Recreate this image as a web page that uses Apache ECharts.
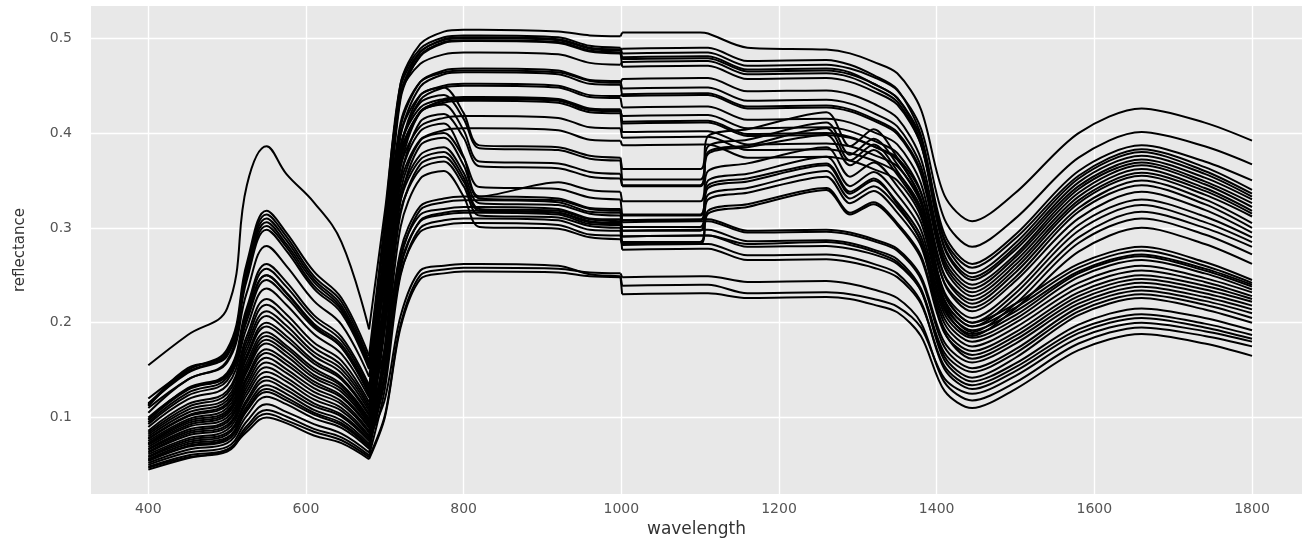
<!DOCTYPE html>
<html>
<head>
<meta charset="utf-8">
<title>reflectance spectra</title>
<script src="https://cdn.jsdelivr.net/npm/echarts@6/dist/echarts.min.js"></script>
<style>
  html, body { margin: 0; padding: 0; background: #fff; }
  #chart { width: 1302px; height: 543px; }
</style>
</head>
<body>
<div id="chart"></div>
<script>
// sample wavelengths (nm); 999 / 1001 sit on both sides of the detector jump
const wavelengths = [400, 450, 500, 525, 550, 575, 610, 645, 680, 700, 720, 745, 775, 800, 820, 920, 960, 999,
  1001, 1100, 1110, 1160, 1260, 1290, 1320, 1350, 1380, 1410, 1445, 1500, 1580, 1660, 1740, 1800]

const xTicks = [400, 600, 800, 1000, 1200, 1400, 1600, 1800]
const yTicks = [0.1, 0.2, 0.3, 0.4, 0.5]

// curves with a smooth NIR plateau, high reflectance
const highCurves = [
  [0.095,0.126,0.142,0.207,0.250,0.232,0.199,0.177,0.128, 0.288,0.452,0.494,0.507, 0.509,0.509,0.507,0.503,0.502, 0.506,0.506,0.505,0.490,0.488, 0.484,0.475,0.463,0.425,0.334,0.307, 0.337,0.400,0.426,0.411,0.392],
  [0.120,0.150,0.172,0.263,0.318,0.295,0.254,0.226,0.165, 0.307,0.452,0.489,0.501, 0.503,0.503,0.501,0.492,0.490, 0.484,0.485,0.485,0.471,0.472, 0.468,0.459,0.445,0.405,0.309,0.280, 0.310,0.374,0.401,0.386,0.367],
  [0.078,0.102,0.115,0.166,0.200,0.186,0.160,0.142,0.104, 0.271,0.441,0.485,0.499, 0.501,0.501,0.499,0.490,0.488, 0.478,0.479,0.479,0.465,0.466, 0.462,0.452,0.437,0.395,0.293,0.262, 0.293,0.360,0.387,0.370,0.350],
  [0.110,0.140,0.160,0.245,0.298,0.276,0.236,0.210,0.151, 0.298,0.448,0.486,0.498, 0.500,0.500,0.498,0.489,0.487, 0.489,0.490,0.490,0.476,0.477, 0.472,0.461,0.446,0.398,0.286,0.252, 0.284,0.352,0.380,0.360,0.336],
  [0.066,0.085,0.095,0.136,0.163,0.151,0.131,0.117,0.086, 0.259,0.436,0.482,0.496, 0.498,0.498,0.496,0.487,0.485, 0.470,0.471,0.471,0.457,0.458, 0.454,0.444,0.430,0.388,0.288,0.258, 0.289,0.355,0.383,0.364,0.340],
  [0.080,0.105,0.118,0.171,0.207,0.192,0.165,0.147,0.107, 0.271,0.439,0.481,0.495, 0.497,0.497,0.495,0.486,0.484, 0.480,0.481,0.481,0.467,0.468, 0.464,0.452,0.437,0.390,0.278,0.245, 0.277,0.344,0.372,0.353,0.330],
  [0.155,0.187,0.215,0.345,0.386,0.357,0.327,0.285,0.193, 0.317,0.442,0.473,0.483, 0.485,0.485,0.483,0.474,0.472, 0.475,0.476,0.476,0.462,0.463, 0.459,0.448,0.433,0.388,0.280,0.248, 0.280,0.348,0.376,0.357,0.333],
  [0.090,0.119,0.134,0.195,0.236,0.219,0.188,0.167,0.121, 0.253,0.406,0.454,0.466, 0.468,0.468,0.466,0.456,0.455, 0.447,0.448,0.448,0.434,0.435, 0.431,0.421,0.407,0.365,0.266,0.236, 0.269,0.337,0.366,0.346,0.322],
  [0.115,0.148,0.168,0.258,0.314,0.291,0.249,0.222,0.160, 0.276,0.411,0.454,0.464, 0.466,0.466,0.464,0.455,0.453, 0.457,0.458,0.458,0.444,0.445, 0.441,0.431,0.416,0.373,0.271,0.240, 0.272,0.341,0.369,0.349,0.326],
  [0.071,0.092,0.103,0.148,0.178,0.165,0.142,0.127,0.093, 0.234,0.397,0.449,0.462, 0.464,0.464,0.462,0.452,0.451, 0.439,0.440,0.440,0.426,0.427, 0.423,0.413,0.399,0.357,0.258,0.228, 0.261,0.329,0.358,0.339,0.315],
  [0.114,0.147,0.167,0.255,0.310,0.287,0.246,0.218,0.157, 0.269,0.399,0.440,0.450, 0.452,0.452,0.450,0.440,0.439, 0.441,0.442,0.442,0.428,0.429, 0.425,0.415,0.401,0.360,0.262,0.232, 0.265,0.333,0.362,0.342,0.318],
  [0.059,0.076,0.084,0.119,0.143,0.133,0.115,0.103,0.077, 0.219,0.383,0.435,0.448, 0.450,0.450,0.448,0.438,0.437, 0.427,0.428,0.428,0.414,0.415, 0.411,0.401,0.388,0.347,0.249,0.220, 0.253,0.321,0.350,0.330,0.305],
  [0.113,0.152,0.165,0.252,0.306,0.283,0.243,0.215,0.155, 0.263,0.387,0.427,0.436, 0.438,0.438,0.436,0.426,0.425, 0.410,0.411,0.411,0.397,0.398, 0.395,0.386,0.374,0.337,0.250,0.224, 0.257,0.326,0.355,0.335,0.312],
  [0.075,0.098,0.110,0.158,0.190,0.176,0.152,0.135,0.099, 0.227,0.375,0.423,0.434, 0.436,0.436,0.434,0.424,0.423, 0.418,0.419,0.419,0.405,0.406, 0.402,0.392,0.379,0.338,0.241,0.212, 0.244,0.310,0.338,0.319,0.295],
  [0.097,0.129,0.145,0.212,0.257,0.238,0.204,0.181,0.131, 0.246,0.379,0.422,0.432, 0.434,0.434,0.432,0.422,0.421, 0.401,0.402,0.402,0.388,0.389, 0.386,0.377,0.365,0.328,0.242,0.216, 0.248,0.317,0.345,0.325,0.300],
  [0.055,0.070,0.078,0.109,0.130,0.121,0.105,0.094,0.070, 0.209,0.371,0.422,0.435, 0.437,0.437,0.435,0.425,0.424, 0.412,0.413,0.413,0.399,0.400, 0.396,0.386,0.372,0.330,0.230,0.200, 0.231,0.297,0.324,0.306,0.285],
  [0.112,0.150,0.169,0.249,0.302,0.280,0.239,0.213,0.153, 0.240,0.365,0.407,0.416, 0.418,0.418,0.416,0.406,0.405, 0.395,0.396,0.396,0.382,0.383, 0.379,0.371,0.358,0.321,0.232,0.205, 0.236,0.303,0.330,0.312,0.290],
  [0.086,0.114,0.128,0.186,0.225,0.209,0.179,0.160,0.116, 0.211,0.347,0.393,0.403, 0.405,0.405,0.403,0.393,0.392, 0.387,0.388,0.388,0.374,0.375, 0.371,0.362,0.350,0.312,0.223,0.196, 0.226,0.290,0.317,0.300,0.280]
]

// curves with the hump near 770 nm and the step up at 1100 nm
const bumpCurves = [
  [0.067,0.087,0.097,0.140,0.168,0.156,0.135,0.121,0.089, 0.225,0.383,0.440,0.448, 0.421,0.387,0.385,0.376,0.374, 0.362,0.362,0.397,0.404,0.422, 0.386,0.404,0.374,0.330,0.222,0.190, 0.220,0.284,0.310,0.293,0.272],
  [0.105,0.140,0.158,0.232,0.281,0.260,0.223,0.198,0.143, 0.256,0.387,0.432,0.440, 0.415,0.384,0.382,0.373,0.371, 0.351,0.351,0.386,0.393,0.411, 0.377,0.394,0.367,0.326,0.229,0.200, 0.220,0.262,0.280,0.264,0.245],
  [0.077,0.101,0.113,0.163,0.196,0.182,0.157,0.140,0.102, 0.210,0.364,0.422,0.430, 0.403,0.370,0.368,0.359,0.357, 0.345,0.345,0.380,0.387,0.405, 0.371,0.388,0.360,0.317,0.216,0.186, 0.215,0.275,0.300,0.283,0.262],
  [0.063,0.081,0.090,0.128,0.153,0.142,0.123,0.110,0.081, 0.193,0.352,0.412,0.420, 0.395,0.365,0.363,0.354,0.352, 0.344,0.344,0.378,0.385,0.398, 0.366,0.382,0.356,0.316,0.224,0.196, 0.216,0.258,0.276,0.260,0.242],
  [0.098,0.131,0.147,0.216,0.262,0.243,0.208,0.185,0.134, 0.225,0.355,0.402,0.410, 0.375,0.333,0.348,0.340,0.338, 0.328,0.328,0.360,0.368,0.385, 0.354,0.369,0.344,0.306,0.218,0.192, 0.212,0.254,0.272,0.257,0.240],
  [0.073,0.096,0.107,0.154,0.186,0.173,0.149,0.133,0.097, 0.197,0.339,0.392,0.400, 0.374,0.343,0.341,0.332,0.330, 0.314,0.314,0.350,0.357,0.375, 0.344,0.359,0.335,0.298,0.213,0.188, 0.208,0.252,0.270,0.255,0.238],
  [0.052,0.066,0.073,0.102,0.122,0.114,0.099,0.089,0.067, 0.175,0.329,0.387,0.395, 0.366,0.331,0.329,0.320,0.318, 0.308,0.308,0.342,0.349,0.366, 0.336,0.350,0.327,0.291,0.209,0.184, 0.204,0.248,0.266,0.252,0.235],
  [0.100,0.130,0.145,0.208,0.250,0.231,0.197,0.174,0.124, 0.210,0.333,0.377,0.385, 0.358,0.326,0.324,0.315,0.313, 0.301,0.301,0.335,0.342,0.360, 0.331,0.344,0.322,0.286,0.204,0.180, 0.200,0.242,0.260,0.247,0.232],
  [0.058,0.074,0.082,0.116,0.139,0.129,0.112,0.101,0.075, 0.174,0.315,0.367,0.375, 0.349,0.318,0.316,0.307,0.305, 0.297,0.297,0.330,0.337,0.354, 0.326,0.339,0.316,0.281,0.199,0.175, 0.195,0.237,0.255,0.243,0.228],
  [0.082,0.108,0.121,0.176,0.212,0.197,0.169,0.151,0.110, 0.196,0.318,0.362,0.370, 0.344,0.313,0.311,0.302,0.300, 0.285,0.285,0.318,0.325,0.342, 0.316,0.327,0.305,0.271,0.193,0.170, 0.190,0.232,0.250,0.239,0.225],
  [0.050,0.063,0.069,0.096,0.114,0.106,0.093,0.083,0.063, 0.161,0.301,0.352,0.360, 0.333,0.301,0.299,0.290,0.288, 0.283,0.283,0.315,0.322,0.340, 0.314,0.325,0.303,0.268,0.189,0.166, 0.186,0.228,0.246,0.235,0.222],
  [0.093,0.123,0.139,0.202,0.245,0.227,0.195,0.174,0.126, 0.210,0.329,0.372,0.380, 0.353,0.320,0.318,0.309,0.307, 0.313,0.313,0.345,0.352,0.368, 0.338,0.352,0.325,0.285,0.190,0.162, 0.182,0.224,0.242,0.231,0.218]
]

// plain curves around 0.3 in the NIR
const midCurves = [
  [0.072,0.094,0.105,0.151,0.182,0.169,0.145,0.130,0.095, 0.162,0.276,0.323,0.331, 0.333,0.333,0.331,0.321,0.320, 0.308,0.309,0.309,0.297,0.298, 0.295,0.288,0.278,0.249,0.179,0.158, 0.178,0.220,0.238,0.227,0.214],
  [0.056,0.072,0.079,0.112,0.134,0.125,0.108,0.097,0.072, 0.144,0.267,0.319,0.327, 0.329,0.329,0.327,0.317,0.316, 0.306,0.307,0.307,0.295,0.296, 0.293,0.286,0.276,0.246,0.174,0.152, 0.172,0.216,0.234,0.223,0.210],
  [0.084,0.111,0.125,0.181,0.219,0.203,0.174,0.155,0.113, 0.172,0.272,0.314,0.320, 0.322,0.322,0.320,0.310,0.309, 0.291,0.292,0.292,0.280,0.281, 0.278,0.272,0.262,0.234,0.168,0.148, 0.168,0.212,0.230,0.219,0.205],
  [0.054,0.069,0.076,0.107,0.127,0.118,0.103,0.092,0.069, 0.139,0.258,0.308,0.316, 0.318,0.318,0.316,0.306,0.305, 0.297,0.298,0.298,0.286,0.287, 0.284,0.277,0.267,0.236,0.164,0.142, 0.163,0.208,0.226,0.214,0.200],
  [0.069,0.090,0.100,0.143,0.172,0.160,0.138,0.123,0.091, 0.154,0.262,0.307,0.314, 0.316,0.316,0.314,0.304,0.303, 0.291,0.292,0.292,0.283,0.285, 0.282,0.275,0.264,0.234,0.160,0.138, 0.157,0.198,0.215,0.205,0.192],
  [0.048,0.060,0.066,0.091,0.108,0.101,0.088,0.079,0.060, 0.130,0.250,0.300,0.308, 0.310,0.310,0.308,0.298,0.297, 0.277,0.278,0.278,0.266,0.267, 0.264,0.258,0.248,0.220,0.154,0.134, 0.153,0.193,0.209,0.199,0.187],
  [0.064,0.083,0.092,0.132,0.158,0.147,0.127,0.114,0.084, 0.146,0.252,0.296,0.303, 0.305,0.305,0.303,0.293,0.292, 0.282,0.283,0.283,0.271,0.272, 0.269,0.262,0.252,0.222,0.151,0.130, 0.149,0.189,0.205,0.195,0.183]
]

// the three darkest curves
const lowCurves = [
  [0.061,0.078,0.087,0.124,0.148,0.138,0.119,0.107,0.079, 0.119,0.207,0.255,0.260, 0.262,0.262,0.260,0.251,0.249, 0.239,0.240,0.240,0.231,0.232, 0.230,0.225,0.217,0.195,0.141,0.125, 0.144,0.184,0.200,0.191,0.180],
  [0.047,0.058,0.064,0.088,0.104,0.097,0.085,0.076,0.058, 0.102,0.198,0.250,0.256, 0.258,0.258,0.257,0.253,0.252, 0.248,0.249,0.249,0.243,0.244, 0.241,0.235,0.226,0.200,0.137,0.118, 0.137,0.178,0.195,0.186,0.175],
  [0.045,0.057,0.066,0.085,0.100,0.094,0.081,0.073,0.056, 0.100,0.195,0.246,0.252, 0.254,0.254,0.253,0.249,0.248, 0.230,0.231,0.231,0.226,0.227, 0.225,0.219,0.211,0.186,0.128,0.110, 0.130,0.171,0.188,0.178,0.165]
]

const allCurves = [...highCurves, ...bumpCurves, ...midCurves, ...lowCurves]
const redEdgeAt = wavelengths.indexOf(680)
const jumpAt = wavelengths.indexOf(1001)

const lineBase = {
  type: 'line',
  showSymbol: false,
  silent: true,
  animation: false,
  lineStyle: { color: '#000', width: 2 },
}

// each spectrum is drawn in pieces so the visible band can be rounder
// and the jump at 1000 nm stays a straight step
const series = []
allCurves.forEach(vals => {
  const pts = wavelengths.map((w, k) => [w, vals[k]])
  series.push({ ...lineBase, smooth: 0.4, data: pts.slice(0, redEdgeAt + 1) })
  series.push({ ...lineBase, smooth: 0.3, data: pts.slice(redEdgeAt, jumpAt) })
  series.push({ ...lineBase, data: pts.slice(jumpAt - 1, jumpAt + 1) })
  series.push({ ...lineBase, smooth: 0.3, data: pts.slice(jumpAt) })
})

const font = 'DejaVu Sans'
const chart = echarts.init(document.getElementById('chart'), null, { renderer: 'canvas' })

chart.setOption({
  backgroundColor: '#fff',
  animation: false,
  grid: {
    left: 91, right: 0, top: 6, bottom: 46,
    show: true, backgroundColor: '#E8E8E8', borderWidth: 0,
  },
  xAxis: {
    type: 'value',
    min: 327.3, max: 1863.4,
    splitNumber: xTicks.length,
    name: 'wavelength',
    nameLocation: 'middle',
    nameGap: 27,
    nameTextStyle: { color: '#333', fontSize: 17, fontFamily: font },
    axisLine: { show: false },
    axisTick: { show: false },
    axisLabel: {
      color: '#555', fontSize: 14, fontFamily: font, margin: 8,
      showMinLabel: false, showMaxLabel: false,
      formatter: v => (xTicks.includes(v) ? String(v) : ''),
    },
    splitLine: { show: true, showMinLine: false, showMaxLine: false, lineStyle: { color: '#fff', width: 1.4 } },
  },
  yAxis: {
    type: 'value',
    min: 0.0193, max: 0.534,
    splitNumber: yTicks.length,
    name: 'reflectance',
    nameLocation: 'middle',
    nameGap: 63,
    nameTextStyle: { color: '#333', fontSize: 15, fontFamily: font },
    axisLine: { show: false },
    axisTick: { show: false },
    axisLabel: {
      color: '#555', fontSize: 14, fontFamily: font, margin: 19,
      showMinLabel: false, showMaxLabel: false,
    },
    splitLine: { show: true, showMinLine: false, showMaxLine: false, lineStyle: { color: '#fff', width: 1.4 } },
  },
  series,
})
</script>
</body>
</html>
